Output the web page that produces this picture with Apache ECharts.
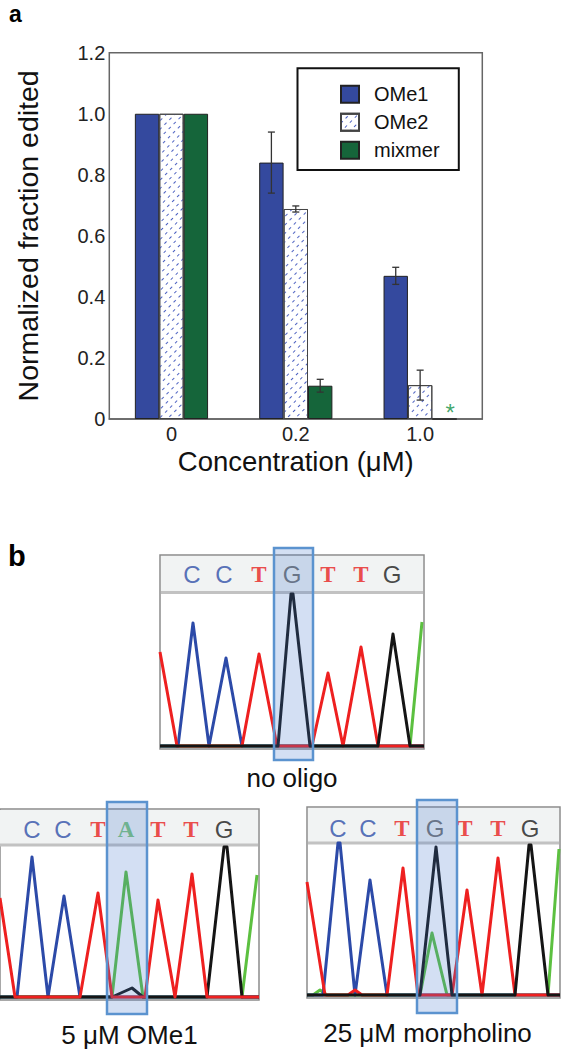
<!DOCTYPE html>
<html>
<head>
<meta charset="utf-8">
<script src="https://cdn.jsdelivr.net/npm/echarts@6/dist/echarts.min.js"></script>
<style>
html,body{margin:0;padding:0;background:#fff;}
#chart{width:562px;height:1050px;}
</style>
</head>
<body>
<div id="chart"></div>
<script>
// ---------- Panel a data ----------
const categories = ['0', '0.2', '1.0'];
const seriesNames = ['OMe1', 'OMe2', 'mixmer'];
const ome1 = [1.0, 0.84, 0.469];
const ome2 = [1.0, 0.688, 0.111];
const mixmer = [1.0, 0.109, 0];
const ome1Err = [0, 0.10, 0.028];
const ome2Err = [0, 0.01, 0.049];
const mixmerErr = [0, 0.021, 0];
const notDetected = [[2, 0]]; // mixmer at 1.0 µM (asterisk)

// ---------- Panel b data (trace x = position, y = signal) ----------
const noOligoSeq = ['C', 'C', 'T', 'G', 'T', 'T', 'G'];
const noOligoPos = [32, 64, 99, 132, 168, 201, 232];
const noOligoRed = [[0,97],[17,3],[82,3],[99,95],[117,3],[152,3],[168,76],[183,3],[201,102],[218,3],[264,3]];
const noOligoBlue = [[0,3],[18,3],[33,126],[49,3],[66,91],[82,3],[264,3]];
const noOligoBlack = [[0,3],[118,3],[131,155],[133,155],[150,3],[218,3],[233,115],[250,3],[264,3]];
const noOligoGreen = [[0,3],[250,3],[262,127]];

const ome1Seq = ['C', 'C', 'T', 'A', 'T', 'T', 'G'];
const ome1Pos = [32, 63, 98, 126, 158, 191, 224];
const ome1Red = [[0,102],[15,3],[80,3],[98,107],[112,3],[145,3],[158,100],[175,3],[192,126],[207,3],[259,3]];
const ome1Blue = [[0,3],[17,3],[32,143],[48,3],[64,104],[80,3],[259,3]];
const ome1Green = [[0,3],[112,3],[126,128],[143,3],[242,3],[257,125]];
const ome1Black = [[0,3],[112,3],[132,12],[143,3],[207,3],[224,153],[227,153],[242,3],[259,3]];

const morphSeq = ['C', 'C', 'T', 'G', 'T', 'T', 'G'];
const morphPos = [31, 61, 95, 128, 158, 191, 223];
const morphRed = [[0,116],[18,3],[41,3],[48,8],[55,3],[80,3],[96,130],[111,3],[145,3],[160,108],[175,3],[191,140],[208,3],[253,3]];
const morphBlue = [[0,3],[16,3],[31,155],[33,155],[48,3],[63,118],[80,3],[253,3]];
const morphGreen = [[0,3],[6,3],[13,8],[20,3],[113,3],[125,65],[140,3],[241,3],[252,149]];
const morphBlack = [[0,3],[113,3],[129,151],[145,3],[208,3],[222,153],[224,153],[241,3],[253,3]];

const SANS = "'Liberation Sans', Arial, Helvetica, sans-serif";
const SERIF = "'Liberation Serif', 'Times New Roman', serif";
const BLUE = '#34499e', GREEN = '#15653a';
const BAR_W = 24.4;

const baseColors = { C: '#2f4ea8', T: '#e8201c', G: '#1a1a1a', A: '#5cb85c' };
const traceColors = { red: '#ee2020', blue: '#2c4aa8', black: '#151515', green: '#5cc040' };

function letterSeries(seq, pos, yVal, gridIdx, hiIdx) {
  return {
    type: 'scatter', xAxisIndex: gridIdx, yAxisIndex: gridIdx, symbolSize: 0, silent: true, z: 5,
    data: seq.map((b, i) => ({ value: [pos[i], yVal], name: b,
      label: { color: i === hiIdx && b === 'G' ? '#505050' : baseColors[b],
               fontFamily: (b === 'T' || b === 'A') ? SERIF : SANS,
               fontWeight: (b === 'T' || b === 'A') ? 'bold' : 'normal',
               fontSize: (b === 'T' || b === 'A') ? 23 : 24 } })),
    label: { show: true, position: 'inside', formatter: p => p.name }
  };
}
function trace(data, color, gridIdx, z) {
  return { type: 'line', xAxisIndex: gridIdx, yAxisIndex: gridIdx, data: data, symbol: 'none',
    silent: true, z: z, lineStyle: { color: traceColors[color], width: 3, join: 'round' } };
}

const errData = [];
[ [ome1, ome1Err], [ome2, ome2Err], [mixmer, mixmerErr] ].forEach((pair, s) => {
  pair[0].forEach((v, i) => { if (pair[1][i] > 0) errData.push([i, v, pair[1][i], s]); });
});

const chart = echarts.init(document.getElementById('chart'), null, { renderer: 'svg' });

const chromAxis = (idx, w, h, name, gap, pad) => ({
  x: { type: 'value', gridIndex: idx, min: 0, max: w, show: !!name,
       axisLine: { show: false }, axisTick: { show: false }, axisLabel: { show: false }, splitLine: { show: false },
       name: name || '', nameLocation: 'middle', nameGap: gap,
       nameTextStyle: { fontFamily: SANS, fontSize: 26, color: '#111', padding: pad || 0 } },
  y: { type: 'value', gridIndex: idx, min: 0, max: h, show: false }
});
const cA = chromAxis(1, 264, 194, 'no oligo', 16);
const cB = chromAxis(2, 259, 191, '5 μM OMe1', 22);
const cC = chromAxis(3, 253, 191, '25 μM morpholino', 22, [0, 12, 0, 0]);

const option = {
  animation: false,
  backgroundColor: '#fff',
  textStyle: { fontFamily: SANS },
  grid: [
    { left: 109.3, top: 52.7, width: 373, height: 366.3, show: true, borderColor: '#666', borderWidth: 1.5, backgroundColor: 'transparent' },
    { left: 160, top: 555, width: 264, height: 194, show: true, borderColor: '#8c8c8c', borderWidth: 1.5 },
    { left: 0, top: 809, width: 259, height: 191, show: true, borderColor: '#8c8c8c', borderWidth: 1.5 },
    { left: 307, top: 807, width: 253, height: 191, show: true, borderColor: '#8c8c8c', borderWidth: 1.5 }
  ],
  xAxis: [
    { type: 'category', gridIndex: 0, data: categories,
      axisLine: { lineStyle: { color: '#666', width: 1.5 } }, axisTick: { show: false },
      axisLabel: { fontSize: 20, color: '#222', margin: 5, fontFamily: SANS },
      name: 'Concentration (μM)', nameLocation: 'middle', nameGap: 28,
      nameTextStyle: { fontSize: 27.5, color: '#111', fontFamily: SANS } },
    cA.x, cB.x, cC.x
  ],
  yAxis: [
    { type: 'value', gridIndex: 0, min: 0, max: 1.2, interval: 0.2,
      axisLine: { show: false }, axisTick: { show: false }, splitLine: { show: false },
      axisLabel: { fontSize: 20, color: '#222', margin: 4, fontFamily: SANS,
                   formatter: v => v === 0 ? '0' : v.toFixed(1) },
      name: 'Normalized fraction edited', nameLocation: 'middle', nameGap: 67,
      nameTextStyle: { fontSize: 28.5, color: '#111', fontFamily: SANS } },
    cA.y, cB.y, cC.y
  ],
  legend: {
    data: seriesNames, orient: 'vertical', left: 340, top: 84.3, icon: 'rect',
    itemWidth: 18, itemHeight: 17, itemGap: 8, padding: 0,
    textStyle: { fontSize: 20, color: '#111', lineHeight: 17, padding: [0, 0, 0, 10], fontFamily: SANS },
    selectedMode: false
  },
  series: [
    { name: 'OMe1', type: 'bar', xAxisIndex: 0, yAxisIndex: 0, data: ome1, barWidth: BAR_W, barGap: '0%',
      itemStyle: { color: BLUE, borderColor: '#222', borderWidth: 1 } },
    { name: 'OMe2', type: 'bar', xAxisIndex: 0, yAxisIndex: 0, data: ome2, barWidth: BAR_W, barGap: '0%',
      itemStyle: { color: '#ffffff', borderColor: '#444', borderWidth: 1,
        decal: { symbol: 'rect', symbolSize: 1, dashArrayX: [3, 4], dashArrayY: [1, 4.5],
                 rotation: -Math.PI / 4, color: '#4d62c2', backgroundColor: '#ffffff' } } },
    { name: 'mixmer', type: 'bar', xAxisIndex: 0, yAxisIndex: 0, data: mixmer, barWidth: BAR_W, barGap: '0%',
      itemStyle: { color: GREEN, borderColor: '#222', borderWidth: 1 } },
    { type: 'custom', xAxisIndex: 0, yAxisIndex: 0, data: errData, z: 5, silent: true,
      renderItem: function (params, api) {
        const cat = api.value(0), v = api.value(1), e = api.value(2), s = api.value(3);
        const x = api.coord([cat, v])[0] + (s - 1) * BAR_W;
        const yt = api.coord([cat, v + e])[1], yb = api.coord([cat, v - e])[1];
        const st = { stroke: '#333', lineWidth: 1.3 };
        return { type: 'group', children: [
          { type: 'line', shape: { x1: x, y1: yt, x2: x, y2: yb }, style: st },
          { type: 'line', shape: { x1: x - 3.5, y1: yt, x2: x + 3.5, y2: yt }, style: st },
          { type: 'line', shape: { x1: x - 3.5, y1: yb, x2: x + 3.5, y2: yb }, style: st }
        ] };
      } },
    { type: 'scatter', xAxisIndex: 0, yAxisIndex: 0, data: notDetected, symbolSize: 0, silent: true,
      label: { show: true, position: 'inside', formatter: '*', color: '#0e8f45', fontSize: 24,
               fontFamily: SANS, offset: [30, -7] } },

    // chromatogram: no oligo
    trace(noOligoGreen, 'green', 1, 2), trace(noOligoBlue, 'blue', 1, 3),
    trace(noOligoRed, 'red', 1, 4), trace(noOligoBlack, 'black', 1, 4),
    letterSeries(noOligoSeq, noOligoPos, 175, 1, 3),
    // chromatogram: 5 µM OMe1
    trace(ome1Green, 'green', 2, 2), trace(ome1Blue, 'blue', 2, 3),
    trace(ome1Black, 'black', 2, 3), trace(ome1Red, 'red', 2, 4),
    letterSeries(ome1Seq, ome1Pos, 171, 2, 3),
    // chromatogram: 25 µM morpholino
    trace(morphGreen, 'green', 3, 2), trace(morphBlue, 'blue', 3, 3),
    trace(morphRed, 'red', 3, 4), trace(morphBlack, 'black', 3, 4),
    letterSeries(morphSeq, morphPos, 170, 3, 3)
  ],
  graphic: [
    { type: 'text', left: 9, top: 2, style: { text: 'a', fontSize: 23, fontWeight: 'bold', fontFamily: SANS, fill: '#000' } },
    { type: 'text', left: 8, top: 541, style: { text: 'b', fontSize: 29, fontWeight: 'bold', fontFamily: SANS, fill: '#000' } },
    // legend frame
    { type: 'rect', shape: { x: 297.5, y: 68.3, width: 161.3, height: 101.7 }, style: { fill: 'none', stroke: '#111', lineWidth: 2 }, z: 10 },
    // chromatogram headers
    { type: 'rect', shape: { x: 161, y: 556, width: 262, height: 36 }, style: { fill: '#f1f3f3' }, z: 1 },
    { type: 'line', shape: { x1: 161, y1: 592.5, x2: 423, y2: 592.5 }, style: { stroke: '#c2c2c2', lineWidth: 3 }, z: 1 },
    { type: 'rect', shape: { x: 0, y: 810, width: 258, height: 34 }, style: { fill: '#f1f3f3' }, z: 1 },
    { type: 'line', shape: { x1: 0, y1: 845, x2: 258, y2: 845 }, style: { stroke: '#c2c2c2', lineWidth: 3 }, z: 1 },
    { type: 'rect', shape: { x: 308, y: 808, width: 251, height: 34 }, style: { fill: '#f1f3f3' }, z: 1 },
    { type: 'line', shape: { x1: 308, y1: 843, x2: 559, y2: 843 }, style: { stroke: '#c2c2c2', lineWidth: 3 }, z: 1 },
    // highlighted base boxes
    { type: 'rect', shape: { x: 274, y: 548, width: 39, height: 212 }, style: { fill: 'rgba(70,120,205,0.24)', stroke: '#5b93cf', lineWidth: 2.5 }, z: 20 },
    { type: 'rect', shape: { x: 107, y: 802, width: 40, height: 212 }, style: { fill: 'rgba(70,120,205,0.24)', stroke: '#5b93cf', lineWidth: 2.5 }, z: 20 },
    { type: 'rect', shape: { x: 417, y: 800, width: 40, height: 213 }, style: { fill: 'rgba(70,120,205,0.24)', stroke: '#5b93cf', lineWidth: 2.5 }, z: 20 }
  ]
};
chart.setOption(option);
</script>
</body>
</html>
